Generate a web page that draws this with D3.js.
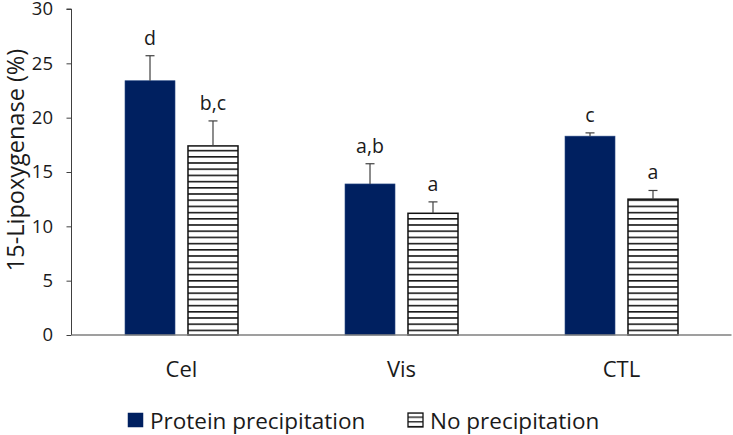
<!DOCTYPE html>
<html>
<head>
<meta charset="utf-8">
<script src="https://cdn.jsdelivr.net/npm/d3@7"></script>
<style>
  html, body { margin: 0; padding: 0; background: #fff; }
  svg { display: block; font-family: "Open Sans", "Noto Sans", sans-serif; }
</style>
</head>
<body>
<svg id="chart" width="733" height="435"></svg>
<script>
const categories = ["Cel", "Vis", "CTL"];
const seriesNames = ["Protein precipitation", "No precipitation"];
const proteinValues = [23.4, 13.9, 18.3];
const proteinErrors = [2.3, 1.86, 0.3];
const noPrecipValues = [17.4, 11.2, 12.5];
const noPrecipErrors = [2.3, 1.05, 0.8];
const proteinLetters = ["d", "a,b", "c"];
const noPrecipLetters = ["b,c", "a", "a"];
const yTicks = [0, 5, 10, 15, 20, 25, 30];
const yLabel = "15-Lipoxygenase (%)";

const svg = d3.select("#chart");
const margin = { left: 71.5, right: 1.5, top: 9, bottom: 100 };
const W = 733, H = 435;
const plotBottom = 335;

const x0 = d3.scaleBand().domain(categories).range([margin.left, W - margin.right]).padding(0);
const x1 = d3.scaleBand().domain(seriesNames)
  .range([x0.bandwidth() / 2 - 56.5, x0.bandwidth() / 2 + 56.5])
  .paddingInner(0.206).paddingOuter(0);
const y = d3.scaleLinear().domain([0, 30]).range([plotBottom, margin.top]);

// hatch pattern
const defs = svg.append("defs");
const pat = defs.append("pattern").attr("id", "hatch")
  .attr("patternUnits", "userSpaceOnUse").attr("width", 10).attr("height", 6.2)
  .attr("y", 1);
pat.append("rect").attr("width", 10).attr("height", 6.2).attr("fill", "#fff");
pat.append("rect").attr("y", 0).attr("width", 10).attr("height", 1.6).attr("fill", "#1a1a1a");

const patL = defs.append("pattern").attr("id", "hatchLeg")
  .attr("patternUnits", "userSpaceOnUse").attr("width", 10).attr("height", 4.7).attr("y", 413 + 4.7 - 0.6);
patL.append("rect").attr("width", 10).attr("height", 4.7).attr("fill", "#fff");
patL.append("rect").attr("width", 10).attr("height", 1.3).attr("fill", "#111");

const data = categories.map((c, i) => ({
  cat: c,
  bars: [
    { s: seriesNames[0], v: proteinValues[i], e: proteinErrors[i], l: proteinLetters[i] },
    { s: seriesNames[1], v: noPrecipValues[i], e: noPrecipErrors[i], l: noPrecipLetters[i] }
  ]
}));

// y axis
const yAxis = svg.append("g").attr("transform", `translate(${margin.left},0)`)
  .call(d3.axisLeft(y).tickValues(yTicks).tickSize(5).tickPadding(13.5).tickFormat(d3.format("d")));
yAxis.select(".domain").attr("stroke", "#404040").attr("stroke-width", 1).attr("d", `M-5,${y(30)}H0V${y(0)}`);
yAxis.selectAll(".tick line").attr("stroke", "#404040");
yAxis.selectAll(".tick text").attr("font-size", 18.5).attr("fill", "#1a1a1a")
  .attr("font-family", "Open Sans, sans-serif");

// bars
const groups = svg.append("g").selectAll("g").data(data).join("g")
  .attr("transform", d => `translate(${x0(d.cat)},0)`);

groups.selectAll("rect.bar").data(d => d.bars).join("rect")
  .attr("class", "bar")
  .attr("x", d => x1(d.s))
  .attr("width", x1.bandwidth())
  .attr("y", d => y(d.v))
  .attr("height", d => y(0) - y(d.v))
  .attr("fill", (d, i) => i === 0 ? "#002060" : "url(#hatch)")
  .attr("stroke", (d, i) => i === 0 ? "#2a4a86" : "#111")
  .attr("stroke-width", (d, i) => i === 0 ? 0.6 : 1.5);

// error bars
const eb = groups.selectAll("g.err").data(d => d.bars).join("g").attr("class", "err");
eb.append("line")
  .attr("x1", d => x1(d.s) + x1.bandwidth() / 2).attr("x2", d => x1(d.s) + x1.bandwidth() / 2)
  .attr("y1", d => y(d.v)).attr("y2", d => y(d.v + d.e))
  .attr("stroke", "#404040").attr("stroke-width", 1.2);
eb.append("line")
  .attr("x1", d => x1(d.s) + x1.bandwidth() / 2 - 4.5).attr("x2", d => x1(d.s) + x1.bandwidth() / 2 + 4.5)
  .attr("y1", d => y(d.v + d.e)).attr("y2", d => y(d.v + d.e))
  .attr("stroke", "#404040").attr("stroke-width", 1.2);
eb.append("text")
  .attr("x", d => x1(d.s) + x1.bandwidth() / 2)
  .attr("y", d => y(d.v + d.e) - 11)
  .attr("text-anchor", "middle").attr("font-size", 19.5).attr("fill", "#1a1a1a")
  .text(d => d.l);

// x axis line
svg.append("line").attr("x1", margin.left).attr("x2", W - margin.right)
  .attr("y1", plotBottom).attr("y2", plotBottom)
  .attr("stroke", "#7f7f7f").attr("stroke-width", 1.5);

// category labels
svg.append("g").selectAll("text").data(categories).join("text")
  .attr("x", d => x0(d) + x0.bandwidth() / 2)
  .attr("y", 377)
  .attr("text-anchor", "middle").attr("font-size", 22).attr("fill", "#1a1a1a")
  .text(d => d);

// y label
svg.append("text")
  .attr("transform", `translate(24,${(y(0) + y(30)) / 2 - 12}) rotate(-90)`)
  .attr("text-anchor", "middle").attr("font-size", 23.5).attr("fill", "#1a1a1a")
  .text(yLabel);

// legend
const legendX = [128, 408];
const leg = svg.append("g").selectAll("g").data(seriesNames).join("g")
  .attr("transform", (d, i) => `translate(${legendX[i]},413)`);
leg.append("rect").attr("width", 15).attr("height", 14)
  .attr("fill", (d, i) => i === 0 ? "#002060" : "url(#hatchLeg)")
  .attr("stroke", (d, i) => i === 0 ? "#002060" : "#111")
  .attr("stroke-width", (d, i) => i === 0 ? 0.5 : 1.3);
leg.append("text").attr("x", 22).attr("y", 15.5)
  .attr("font-size", 22.5).attr("fill", "#1a1a1a").text(d => d);
</script>
</body>
</html>
